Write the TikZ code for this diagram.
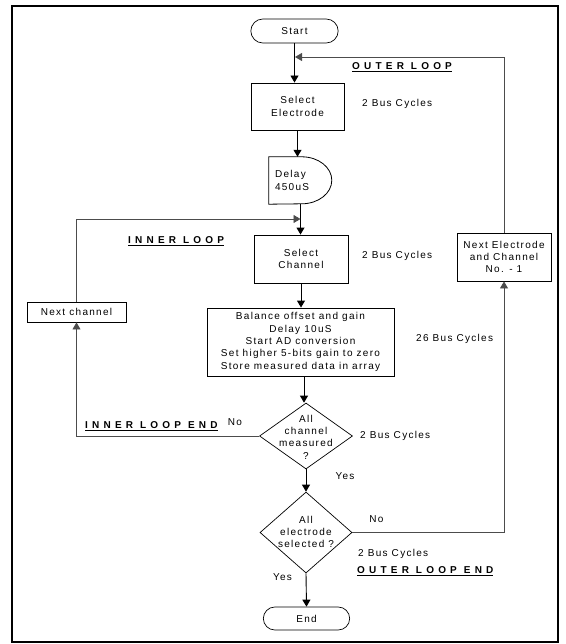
\documentclass[tikz,border=0pt]{standalone}
\usepackage{fontspec}
\setmainfont[LetterSpace=13]{Liberation Sans}
\newfontfamily\loopfont[LetterSpace=42]{Liberation Sans}
\usetikzlibrary{shapes.misc, shapes.geometric, arrows.meta, positioning}

\begin{document}
\begin{tikzpicture}[x=1pt, y=-1pt,
    every node/.style={font=\fontsize{10}{12.3}\selectfont},
    termbox/.style={draw, rounded rectangle, minimum width=94pt, minimum height=24pt, line width=0.7pt},
    procbox/.style={draw, rectangle, align=center, inner sep=0pt, line width=0.9pt},
    decision/.style={draw, diamond, inner sep=0pt, line width=0.7pt},
    flow/.style={line width=0.9pt, -{Triangle[width=8pt,length=7pt]}},
    loopline/.style={flow, draw=black!70},
    note/.style={anchor=west, inner sep=0pt},
    looplabel/.style={anchor=west, inner sep=0pt, font=\fontsize{10}{12}\loopfont\bfseries}]
    \useasboundingbox (0,0) rectangle (565,644);
    \draw[line width=2.5pt] (12,6) rectangle (558,642);

    % main column
    \node[termbox] (start) at (294.5,31) {Start};
    \node[procbox, minimum width=93pt, minimum height=47pt] (selel) at (297.5,106.5) {Select\\Electrode};
    \node[inner sep=6pt, text width=51pt, minimum height=47pt, align=left] (delay) at (300.5,180.5) {Delay\\450uS};
    \draw[line width=0.8pt] (delay.south west) -- (delay.north west) -- ++(33,0)
        arc[start angle=-90, end angle=90, x radius=30, y radius=23.5] -- cycle;
    \node[procbox, minimum width=94pt, minimum height=48pt] (selch) at (301,259) {Select\\Channel};
    \node[procbox, minimum width=187pt, minimum height=68pt] (proc) at (300.5,342)
        {Balance offset and gain\\Delay 10uS\\Start AD conversion\\Set higher 5-bits gain to zero\\Store measured data in array};
    \node[decision, minimum width=93pt, minimum height=66pt] (chk1) at (306,436) {};
    \node[align=center, inner sep=0pt] (chk1txt) at (306,437) {All\\channel\\measured\\?};
    \node[decision, minimum width=92pt, minimum height=81pt] (chk2) at (306,532.5) {};
    \node[align=center, inner sep=0pt] (chk2txt) at (306,532) {All\\electrode\\selected ?};
    \node[termbox, minimum width=93pt, minimum height=23pt] (end) at (306.5,618.5) {End};

    % loop boxes
    \node[procbox, minimum width=99pt, minimum height=20pt] (nextch) at (76.5,312) {Next channel};
    \node[procbox, minimum width=94pt, minimum height=48pt] (nextel) at (504,257) {Next Electrode\\and Channel\\No. - 1};
    \coordinate (outerjoin) at (295,57);
    \coordinate (innerjoin) at (300.5,219);

    % connectors
    \draw[flow] (start.south) -- (start.south |- selel.north);
    \draw[flow] (selel.south) -- (selel.south |- delay.north);
    \draw[flow] (delay.south) -- (delay.south |- selch.north);
    \draw[flow] (selch.south) -- (selch.south |- proc.north);
    \draw[flow] (proc.south -| 304,0) -- (chk1.north -| 304,0);
    \draw[flow] (chk1.south) -- (chk2.north);
    \draw[flow] (chk2.south) -- (end.north);
    \draw[loopline] (chk1.west) -| (nextch.south);
    \draw[loopline] (nextch.north) |- (innerjoin);
    \draw[loopline] (chk2.east) -| (nextel.south);
    \draw[loopline] (nextel.north) |- (outerjoin);

    % labels
    \node[note] (bc1) at (362,104) {2 Bus Cycles};
    \node[note] (bc2) at (362,256) {2 Bus Cycles};
    \node[note] (bc3) at (416,339) {26 Bus Cycles};
    \node[note] (bc4) at (360,436) {2 Bus Cycles};
    \node[note] (bc5) at (358,554) {2 Bus Cycles};
    \node[looplabel] (outerlbl) at (352,67) {\underline{OUTER LOOP}};
    \node[looplabel] (innerlbl) at (128,241) {\underline{INNER LOOP}};
    \node[looplabel] (innerend) at (85,426) {\underline{INNER LOOP END}};
    \node[looplabel] (outerend) at (357,571) {\underline{OUTER LOOP END}};
    \node[inner sep=0pt] (no1) at (235,422) {No};
    \node[inner sep=0pt] (yes1) at (345,476) {Yes};
    \node[inner sep=0pt] (no2) at (376.5,519) {No};
    \node[inner sep=0pt] (yes2) at (282.5,577) {Yes};
\end{tikzpicture}
\end{document}
